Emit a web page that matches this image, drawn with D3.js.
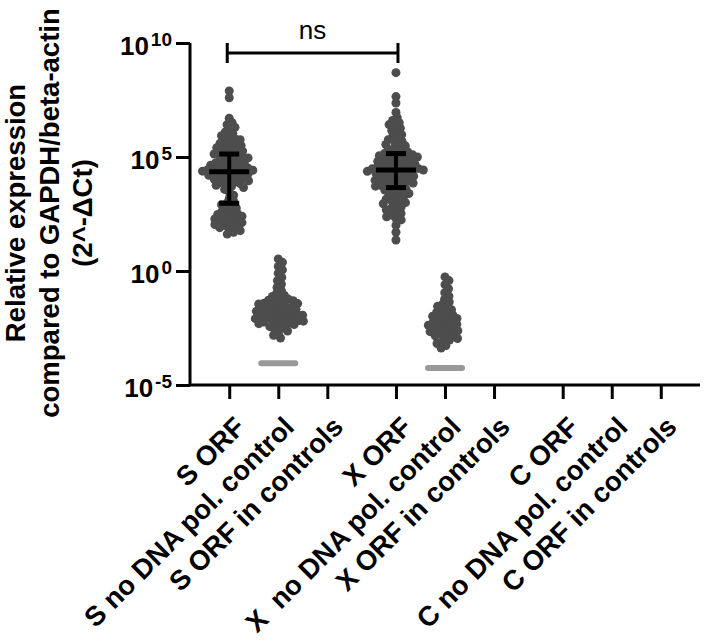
<!DOCTYPE html>
<html><head><meta charset="utf-8">
<script src="https://cdn.jsdelivr.net/npm/d3@7"></script>
<style>
html,body{margin:0;padding:0;background:#fff;}
svg text{font-family:"Liberation Sans",Arial,Helvetica,sans-serif;white-space:pre;}
</style></head>
<body><svg id="c" width="709" height="644"></svg>
<script>
// ---------- data (log10 of relative expression) ----------
const categories = ["S ORF","S no DNA pol. control","S ORF in controls",
  "X ORF","X  no DNA pol. control","X ORF in controls",
  "C ORF","C no DNA pol. control","C ORF in controls"];
const yTickExponents = [10, 5, 0, -5];

const sOrfLog10 = [7.9,7.6,6.7,6.5,6.42,6.3,6.22,6.1,6.02,5.93,5.86,5.8,5.76,5.7,5.64,5.6,5.55,5.5,5.46,5.41,5.38,5.34,5.3,5.26,5.21,5.18,
  5.13,5.1,5.06,5.02,4.99,4.96,4.91,4.88,4.84,4.8,4.77,4.74,4.7,4.67,4.64,4.6,4.57,4.55,4.52,4.49,4.47,4.44,4.42,4.4,4.38,4.36,
  4.35,
  4.32,4.29,4.26,4.23,4.2,4.17,4.14,4.11,4.08,4.05,4.02,3.99,3.96,3.92,3.88,3.84,3.8,3.76,3.71,3.66,3.58,3.46,3.32,3.18,3.05,2.97,
  2.91,2.84,2.76,2.68,2.62,2.57,2.52,2.48,2.44,2.4,2.36,2.32,2.28,2.24,2.2,2.16,2.12,2.08,2.04,2.0,1.95,1.9,1.84,1.77,1.7,1.62];
const xOrfLog10 = [8.7,7.65,7.37,6.95,6.72,6.6,6.5,6.42,6.34,6.26,6.16,6.06,5.98,5.9,5.82,5.76,5.68,5.61,5.55,5.49,5.43,5.37,5.31,5.26,5.22,5.19,
  5.15,5.13,5.1,5.06,5.03,5.0,4.97,4.94,4.9,4.87,4.84,4.81,4.78,4.75,4.72,4.69,4.66,4.63,4.6,4.57,4.54,4.52,4.5,4.48,4.46,4.44,
  4.43,
  4.41,4.39,4.37,4.34,4.31,4.28,4.25,4.22,4.19,4.16,4.13,4.1,4.07,4.04,4.01,3.98,3.95,3.92,3.89,3.86,3.83,3.8,3.76,3.72,3.69,3.66,
  3.6,3.55,3.5,3.45,3.4,3.35,3.3,3.22,3.15,3.1,3.05,3.0,2.95,2.88,2.8,2.75,2.68,2.6,2.52,2.45,2.38,2.3,2.24,2.0,1.7,1.36];
const sNoPolLog10 = [0.53,0.38,0.2,0.05,-0.1,-0.28,-0.42,-0.58,-0.72,-0.86,-0.97,-1.06,-1.12,-1.18,-1.23,-1.28,-1.3,-1.33,-1.37,-1.41,-1.43,-1.45,
  -1.49,-1.53,-1.56,-1.6,-1.63,-1.66,-1.68,-1.7,-1.73,-1.76,-1.79,-1.82,-1.85,-1.88,-1.9,-1.91,-1.94,-1.97,-2.0,-2.03,-2.05,-2.06,-2.09,-2.12,-2.15,
  -2.18,-2.2,-2.21,-2.24,-2.27,-2.29,-2.31,-2.35,-2.39,-2.44,-2.5,-2.56,-2.63,-2.72,-2.82,-2.94];
const xNoPolLog10 = [-0.26,-0.42,-0.6,-0.78,-0.95,-1.1,-1.24,-1.36,-1.46,-1.55,-1.63,-1.7,-1.76,-1.82,-1.88,-1.93,-1.98,-2.03,-2.08,-2.13,
  -2.18,-2.22,-2.26,-2.3,-2.34,-2.38,-2.42,-2.46,-2.5,-2.54,-2.58,-2.62,-2.66,-2.7,-2.74,-2.79,-2.84,-2.9,-2.96,-3.03,-3.1,-3.18,-3.27,-3.38];
// undetermined samples plotted at the floor value (light grey band)
const sFloorLog10 = -4.05;
const xFloorLog10 = -4.25;

// ---------- layout ----------
const svg = d3.select("#c");
const slot = i => i + 0.4 * Math.floor(i / 3);   // gap between the three groups
const x = d3.scaleLinear().domain([-0.8, 9.6]).range([190, 700]);
const y = d3.scaleLog().domain([1e-5, 1e10]).range([385, 43]);
const ptColor = "#4d4d4d";
const R = 4.5, D = 5.4;

// y axis
const yAxis = svg.append("g").attr("transform", "translate(190,0)")
  .call(d3.axisLeft(y).tickValues(yTickExponents.map(e => Math.pow(10, e))).tickSize(14).tickFormat(""));
yAxis.select(".domain").attr("stroke", "#000").attr("stroke-width", 3).attr("d", "M0,43V385");
yAxis.selectAll(".tick line").attr("stroke", "#000").attr("stroke-width", 3);
yAxis.selectAll(".tick").each(function(d) {
  const e = Math.round(Math.log10(d));
  const t = d3.select(this).append("text").attr("x", -18).attr("y", 11)
    .attr("text-anchor", "end").attr("fill", "#000").attr("font-weight", "bold").attr("font-size", 26);
  t.append("tspan").text("10");
  t.append("tspan").attr("dx", 2).attr("dy", -9).attr("font-size", 19).text(e);
});

// x axis
const xAxis = svg.append("g").attr("transform", "translate(0,385)")
  .call(d3.axisBottom(x).tickValues(categories.map((c, i) => slot(i))).tickSize(14)
    .tickFormat((d, i) => categories[i]));
xAxis.select(".domain").attr("stroke", "#000").attr("stroke-width", 3).attr("d", "M190,0H700");
xAxis.selectAll(".tick line").attr("stroke", "#000").attr("stroke-width", 3);
xAxis.selectAll(".tick text").attr("fill", "#000").attr("font-size", 27.5).attr("font-weight", "bold")
  .attr("text-anchor", "end").attr("y", null).attr("dy", null)
  .attr("transform", "translate(17,43.5) rotate(-45)");

// beeswarm
function swarm(vals, cx) {
  const pts = vals.map(v => ({ v, py: y(Math.pow(10, v)) })).sort((a, b) => a.py - b.py);
  const placed = [];
  for (const p of pts) {
    const near = placed.filter(q => Math.abs(q.py - p.py) < D);
    const cands = [0];
    near.forEach(q => { const h = Math.sqrt(D * D - (q.py - p.py) ** 2); cands.push(q.dx + h, q.dx - h); });
    cands.sort((a, b) => Math.abs(a) - Math.abs(b));
    for (const c of cands) {
      if (near.every(q => (q.dx - c) ** 2 + (q.py - p.py) ** 2 >= D * D - 0.01)) { p.dx = c; break; }
    }
    placed.push(p);
  }
  svg.append("g").selectAll("circle").data(placed).join("circle")
    .attr("cx", d => cx + d.dx).attr("cy", d => d.py).attr("r", R).attr("fill", ptColor);
  return placed;
}
const groups = [
  { vals: sOrfLog10, i: 0, bars: true },
  { vals: sNoPolLog10, i: 1, floor: sFloorLog10 },
  { vals: xOrfLog10, i: 3, bars: true },
  { vals: xNoPolLog10, i: 4, floor: xFloorLog10 }
];
groups.forEach(g => {
  const cx = x(slot(g.i));
  if (g.floor !== undefined) {
    svg.append("line").attr("x1", cx - 17).attr("x2", cx + 17)
      .attr("y1", y(Math.pow(10, g.floor))).attr("y2", y(Math.pow(10, g.floor)))
      .attr("stroke", "#999").attr("stroke-width", 6).attr("stroke-linecap", "round");
  }
  swarm(g.vals, cx);
});
// median + interquartile range
groups.filter(g => g.bars).forEach(g => {
  const cx = x(slot(g.i));
  const s = g.vals.slice().sort(d3.ascending);
  const med = y(Math.pow(10, d3.quantile(s, 0.5)));
  const q1 = y(Math.pow(10, d3.quantile(s, 0.25)));
  const q3 = y(Math.pow(10, d3.quantile(s, 0.75)));
  const gg = svg.append("g").attr("stroke", "#000");
  gg.append("line").attr("x1", cx).attr("x2", cx).attr("y1", q3).attr("y2", q1).attr("stroke-width", 4);
  gg.append("line").attr("x1", cx - 10).attr("x2", cx + 10).attr("y1", q3).attr("y2", q3).attr("stroke-width", 5);
  gg.append("line").attr("x1", cx - 10).attr("x2", cx + 10).attr("y1", q1).attr("y2", q1).attr("stroke-width", 5);
  gg.append("line").attr("x1", cx - 20).attr("x2", cx + 20).attr("y1", med).attr("y2", med).attr("stroke-width", 5);
});

// significance bracket
const bx1 = x(slot(0)) - 2, bx2 = x(slot(3)) + 2, by = 53;
const br = svg.append("g").attr("stroke", "#000").attr("stroke-width", 3);
br.append("line").attr("x1", bx1).attr("x2", bx2).attr("y1", by).attr("y2", by);
br.append("line").attr("x1", bx1).attr("x2", bx1).attr("y1", by - 10).attr("y2", by + 10);
br.append("line").attr("x1", bx2).attr("x2", bx2).attr("y1", by - 10).attr("y2", by + 10);
svg.append("text").attr("x", (bx1 + bx2) / 2).attr("y", 39).attr("text-anchor", "middle")
  .attr("font-size", 26).attr("fill", "#000").text("ns");

// y title
const titleLines = ["Relative expression", "compared to GAPDH/beta-actin", "(2^-ΔCt)"];
const tt = svg.append("text").attr("transform", "translate(25,213) rotate(-90)")
  .attr("text-anchor", "middle").attr("font-weight", "bold").attr("font-size", 27.5).attr("fill", "#000");
titleLines.forEach((l, i) => tt.append("tspan").attr("x", 0).attr("y", i * 33.5).text(l));
</script></body></html>
